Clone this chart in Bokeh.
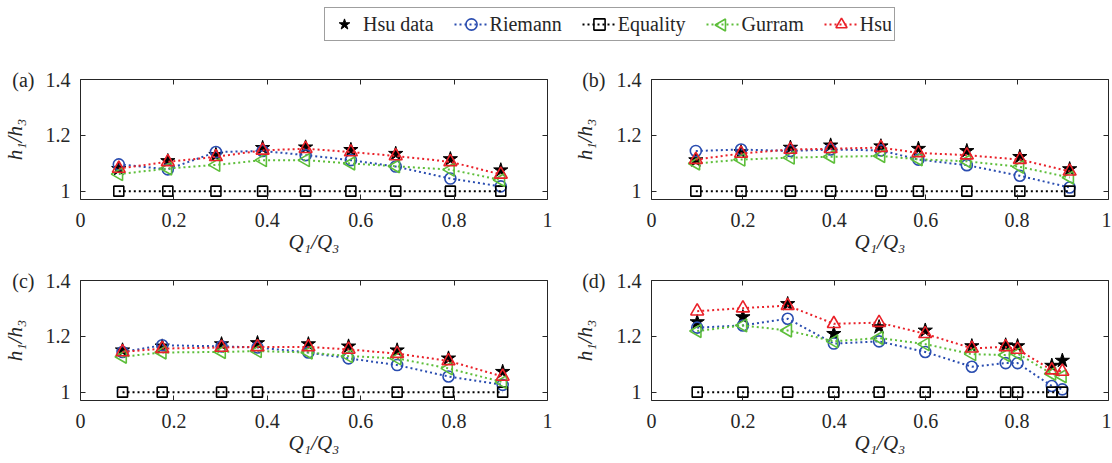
import math
from bokeh.plotting import figure
from bokeh.layouts import column, row
from bokeh.models import (Range1d, FixedTicker, LinearAxis, Legend,
                          LegendItem, CustomJSTickFormatter)
from bokeh.embed import file_html
from bokeh.resources import INLINE

# ---------------- data ----------------
series_names = ["Hsu data", "Riemann", "Equality", "Gurram", "Hsu"]
panel_tags = ["(a)", "(b)", "(c)", "(d)"]
x_ticks = [0, 0.2, 0.4, 0.6, 0.8, 1]
y_ticks = [1, 1.2, 1.4]
x_title = "Q₁/Q₃"
y_title = "h₁/h₃"

a_q = [0.082, 0.187, 0.290, 0.390, 0.482, 0.579, 0.675, 0.792, 0.900]
a_data = [1.080, 1.108, 1.130, 1.155, 1.157, 1.148, 1.134, 1.115, 1.075]
a_riemann = [1.096, 1.078, 1.140, 1.144, 1.129, 1.111, 1.088, 1.045, 1.017]
a_equality = [1, 1, 1, 1, 1, 1, 1, 1, 1]
a_gurram = [1.061, 1.081, 1.094, 1.111, 1.111, 1.099, 1.089, 1.077, 1.040]
a_hsu = [1.081, 1.105, 1.123, 1.146, 1.152, 1.140, 1.126, 1.105, 1.060]

b_q = [0.097, 0.196, 0.304, 0.392, 0.502, 0.584, 0.690, 0.806, 0.915]
b_data = [1.111, 1.140, 1.156, 1.164, 1.161, 1.152, 1.144, 1.123, 1.079]
b_riemann = [1.144, 1.149, 1.144, 1.149, 1.146, 1.113, 1.093, 1.055, 1.013]
b_equality = [1, 1, 1, 1, 1, 1, 1, 1, 1]
b_gurram = [1.099, 1.113, 1.120, 1.123, 1.126, 1.114, 1.107, 1.087, 1.049]
b_hsu = [1.113, 1.135, 1.149, 1.152, 1.156, 1.137, 1.129, 1.113, 1.071]

c_q = [0.090, 0.175, 0.302, 0.379, 0.488, 0.574, 0.678, 0.788, 0.904]
c_data = [1.150, 1.164, 1.172, 1.176, 1.172, 1.164, 1.150, 1.121, 1.073]
c_riemann = [1.144, 1.168, 1.164, 1.160, 1.142, 1.121, 1.097, 1.056, 1.026]
c_equality = [1, 1, 1, 1, 1, 1, 1, 1, 1]
c_gurram = [1.127, 1.142, 1.144, 1.147, 1.142, 1.129, 1.121, 1.085, 1.036]
c_hsu = [1.144, 1.156, 1.160, 1.162, 1.162, 1.153, 1.138, 1.112, 1.056]

d_q = [0.100, 0.200, 0.298, 0.399, 0.498, 0.599, 0.701, 0.775, 0.801, 0.876, 0.899]
d_data = [1.251, 1.269, 1.316, 1.209, 1.233, 1.221, 1.165, 1.168, 1.165, 1.095, 1.113]
d_riemann = [1.231, 1.239, 1.263, 1.174, 1.182, 1.144, 1.091, 1.104, 1.104, 1.022, 1.010]
d_equality = [1, 1, 1, 1, 1, 1, 1, 1, 1, 1, 1]
d_gurram = [1.219, 1.239, 1.221, 1.182, 1.194, 1.172, 1.136, 1.133, 1.138, 1.066, 1.057]
d_hsu = [1.290, 1.301, 1.310, 1.245, 1.249, 1.209, 1.157, 1.162, 1.153, 1.079, 1.074]

# ---------------- style ----------------
FONT = "Liberation Serif"
TXT = "#262626"
BLACK = "#000000"
BLUE = "#2A4DB0"
GREEN = "#5DBE3A"
RED = "#EA2129"
DASH = "2 3"
FS = "20px"
FS_T = "21px"
LEFT_TRI = math.pi / 2          # rotate the triangle so its apex points left
GURRAM_KEY_PX = (721.5, 23.5)   # where the legend draws the Gurram key (strip pixels)

fmt_code = "return Number(tick.toFixed(2)).toString();"


def style_axis(ax, tick_standoff):
    ax.major_tick_in = 5
    ax.major_tick_out = 0
    ax.minor_tick_line_color = None
    ax.axis_line_color = TXT
    ax.major_tick_line_color = TXT
    ax.major_label_text_font = FONT
    ax.major_label_text_font_size = FS
    ax.major_label_text_color = TXT
    ax.major_label_standoff = tick_standoff
    ax.axis_label_text_font = FONT
    ax.axis_label_text_font_size = FS_T
    ax.axis_label_text_font_style = "italic"
    ax.axis_label_text_color = TXT
    ax.formatter = CustomJSTickFormatter(code=fmt_code)


def mirror_axis(ticks):
    return LinearAxis(ticker=FixedTicker(ticks=ticks),
                      formatter=CustomJSTickFormatter(code="return '';"),
                      major_tick_in=5, major_tick_out=0,
                      minor_tick_line_color=None, major_label_standoff=0,
                      axis_line_color=TXT, major_tick_line_color=TXT)


def draw_series(p, q, data, riem, equ, gur, hsu, gurram_marker=True):
    rs = {}
    rs["data"] = p.scatter(q, data, marker="star", size=15, fill_color=BLACK,
                           line_color=BLACK, line_width=1)
    rs["riem_l"] = p.line(q, riem, line_color=BLUE, line_width=2, line_dash=DASH)
    rs["riem_m"] = p.scatter(q, riem, marker="circle", size=11, fill_color=None,
                             line_color=BLUE, line_width=1.6)
    rs["equ_l"] = p.line(q, equ, line_color=BLACK, line_width=2, line_dash=DASH)
    rs["equ_m"] = p.scatter(q, equ, marker="square", size=10, fill_color=None,
                            line_color=BLACK, line_width=1.6)
    rs["gur_l"] = p.line(q, gur, line_color=GREEN, line_width=2, line_dash=DASH)
    if gurram_marker:
        rs["gur_m"] = p.scatter(q, gur, marker="triangle", size=13, angle=LEFT_TRI,
                                fill_color=None, line_color=GREEN, line_width=1.6)
    rs["hsu_l"] = p.line(q, hsu, line_color=RED, line_width=2, line_dash=DASH)
    rs["hsu_m"] = p.scatter(q, hsu, marker="triangle", size=13, fill_color=None,
                            line_color=RED, line_width=1.6)
    return rs


def make_panel(tag, series, width, left, right, height, top, bottom):
    p = figure(width=width, height=height, x_range=Range1d(0, 1),
               y_range=Range1d(0.97, 1.4), toolbar_location=None,
               output_backend="svg", min_border_left=left,
               min_border_right=right, min_border_top=top,
               min_border_bottom=bottom, outline_line_color=None,
               background_fill_color="white", border_fill_color="white")
    p.xgrid.visible = False
    p.ygrid.visible = False
    p.xaxis.ticker = FixedTicker(ticks=x_ticks)
    p.yaxis.ticker = FixedTicker(ticks=y_ticks)
    for ax in p.xaxis:
        style_axis(ax, 13)
        ax.axis_label = x_title
        ax.axis_label_standoff = 0
    for ax in p.yaxis:
        style_axis(ax, 10)
    # outer left axis: carries the panel tag at the top tick and the y title
    tag_axis = LinearAxis(ticker=FixedTicker(ticks=[y_ticks[-1]]),
                          formatter=CustomJSTickFormatter(code="return '%s';" % tag),
                          major_tick_in=0, major_tick_out=0,
                          major_tick_line_color=None, minor_tick_line_color=None,
                          axis_line_color=None, major_label_standoff=8,
                          major_label_text_font=FONT, major_label_text_font_size=FS,
                          major_label_text_color=TXT,
                          axis_label=y_title, axis_label_standoff=-18,
                          axis_label_text_font=FONT, axis_label_text_font_size=FS_T,
                          axis_label_text_font_style="italic",
                          axis_label_text_color=TXT)
    p.add_layout(tag_axis, "left")
    p.add_layout(mirror_axis(x_ticks), "above")
    p.add_layout(mirror_axis(y_ticks), "right")
    draw_series(p, *series)
    return p


LW, LL, LR = 570, 76, 23
RW, RL, RR = 541, 67, 3
H1, T1, B1 = 214, 31, 63
H2, T2, B2 = 200, 18, 62
HL = 48

pa = make_panel(panel_tags[0], (a_q, a_data, a_riemann, a_equality, a_gurram, a_hsu), LW, LL, LR, H1, T1, B1)
pb = make_panel(panel_tags[1], (b_q, b_data, b_riemann, b_equality, b_gurram, b_hsu), RW, RL, RR, H1, T1, B1)
pc = make_panel(panel_tags[2], (c_q, c_data, c_riemann, c_equality, c_gurram, c_hsu), LW, LL, LR, H2, T2, B2)
pd = make_panel(panel_tags[3], (d_q, d_data, d_riemann, d_equality, d_gurram, d_hsu), RW, RL, RR, H2, T2, B2)

# ---------------- legend strip ----------------
lf = figure(width=LW + RW, height=HL, x_range=Range1d(0, LW + RW), y_range=Range1d(0, HL),
            toolbar_location=None, output_backend="svg", min_border=0,
            outline_line_color=None, x_axis_location=None, y_axis_location=None)
lf.xgrid.visible = False
lf.ygrid.visible = False
off_x = [-20, -10]
off_y = [-20, -20]
lr = draw_series(lf, off_x, off_y, off_y, off_y, off_y, off_y, gurram_marker=False)
# the legend cannot rotate its keys, so the left-pointing Gurram key is placed here
lf.scatter([GURRAM_KEY_PX[0]], [GURRAM_KEY_PX[1]], marker="triangle", size=12,
           angle=LEFT_TRI, fill_color=None, line_color=GREEN, line_width=1.6)
items = [
    LegendItem(label=series_names[0], renderers=[lr["data"]]),
    LegendItem(label=series_names[1], renderers=[lr["riem_l"], lr["riem_m"]]),
    LegendItem(label=series_names[2], renderers=[lr["equ_l"], lr["equ_m"]]),
    LegendItem(label=series_names[3], renderers=[lr["gur_l"]]),
    LegendItem(label=series_names[4], renderers=[lr["hsu_l"], lr["hsu_m"]]),
]
legend = Legend(items=items, orientation="horizontal", location=(324, 7),
                label_text_font=FONT, label_text_font_size=FS,
                label_text_color=TXT, glyph_width=34, glyph_height=28,
                label_standoff=2, spacing=20, padding=2, margin=0,
                border_line_color="#404040", border_line_width=1,
                background_fill_alpha=0)
lf.add_layout(legend)

layout = column(lf, row(pa, pb, spacing=0), row(pc, pd, spacing=0), spacing=0)

open("out.html", "w").write(file_html(layout, INLINE))
